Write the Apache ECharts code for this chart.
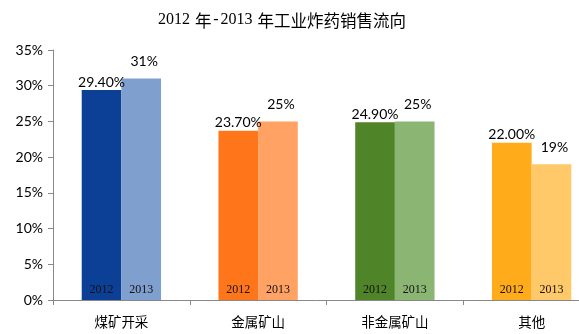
<!DOCTYPE html>
<html>
<head>
<meta charset="utf-8">
<script src="https://cdn.jsdelivr.net/npm/echarts@6/dist/echarts.min.js"></script>
<style>
  html, body { margin: 0; padding: 0; background: #fff; }
  #chart { width: 579px; height: 334px; }
</style>
</head>
<body>
<div id="chart"></div>
<script>
// Sales destinations of industrial explosives, share by sector
const categories = ['煤矿开采', '金属矿山', '非金属矿山', '其他'];
const years = ['2012', '2013'];
const values2012 = [29.4, 23.7, 24.9, 22.0];
const values2013 = [31, 25, 25, 19];
const yTicks = { min: 0, max: 35, interval: 5 };

const colors2012 = ['#0C3F96', '#FF761A', '#4F8429', '#FFAB1A'];
const colors2013 = ['#7F9FCE', '#FFA263', '#8BB573', '#FFC869'];

const valueFont = { fontFamily: 'Lato, "Liberation Sans", sans-serif', fontSize: 14, color: '#000' };
const serifFont = '"Liberation Serif", "DejaVu Serif", "Noto Sans CJK SC", serif';
const cjkFont = '"Noto Sans CJK SC", sans-serif';

function barSeries(year, values, colors, fmt, labelDist, labelOffset) {
  return [
    {
      name: year,
      type: 'bar',
      stack: 's' + year,
      data: values.map((v, i) => ({ value: v, itemStyle: { color: colors[i] } })),
      label: {
        show: true,
        position: 'insideBottom',
        distance: 4,
        formatter: year,
        fontFamily: serifFont,
        fontSize: 12,
        color: '#111'
      }
    },
    {
      // zero-height cap carrying the value label above each bar
      name: year + '-label',
      type: 'bar',
      stack: 's' + year,
      data: values.map(() => 0),
      itemStyle: { color: 'transparent' },
      label: Object.assign({
        show: true,
        position: 'top',
        distance: labelDist,
        offset: labelOffset,
        formatter: p => fmt(values[p.dataIndex])
      }, valueFont)
    }
  ];
}

const chart = echarts.init(document.getElementById('chart'), null, { renderer: 'canvas' });
chart.setOption({
  animation: false,
  backgroundColor: '#fff',
  title: {
    text: '{d|2012}{g| }{c|年}{h|-}{d|2013}{g| }{c|年工业炸药销售流向}',
    left: 153,
    top: 7,
    textStyle: {
      fontWeight: 'normal',
      rich: {
        d: { fontFamily: serifFont, fontSize: 16, fontWeight: 'normal', color: '#000' },
        c: { fontFamily: cjkFont, fontSize: 16.5, fontWeight: 'normal', color: '#000' },
        g: { fontFamily: serifFont, fontSize: 16, fontWeight: 'normal', width: 5 },
        h: { fontFamily: serifFont, fontSize: 16, fontWeight: 'normal', width: 9, align: 'center', color: '#000' }
      }
    }
  },
  grid: { left: 53, right: -21, top: 50, bottom: 34, containLabel: false, outerBoundsMode: 'none' },
  xAxis: {
    type: 'category',
    data: categories,
    axisLine: { lineStyle: { color: '#888' } },
    axisTick: { show: true, length: 5, lineStyle: { color: '#888' } },
    axisLabel: { margin: 15, fontFamily: cjkFont, fontSize: 13.5, color: '#000' }
  },
  yAxis: {
    type: 'value',
    min: yTicks.min,
    max: yTicks.max,
    interval: yTicks.interval,
    axisLine: { show: true, lineStyle: { color: '#888' } },
    axisTick: { show: true, length: 5, lineStyle: { color: '#888' } },
    splitLine: { show: false },
    axisLabel: { formatter: '{value}%', margin: 10, fontFamily: 'Lato, "Liberation Sans", sans-serif', fontSize: 14, color: '#000' }
  },
  series: [
    ...barSeries(years[0], values2012, colors2012, v => v.toFixed(2) + '%', 1, [0, 0]),
    ...barSeries(years[1], values2013, colors2013, v => v + '%', 10, [3, 0])
  ].map(s => Object.assign(s, { barGap: '0%', barCategoryGap: '42%' }))
});
</script>
</body>
</html>
